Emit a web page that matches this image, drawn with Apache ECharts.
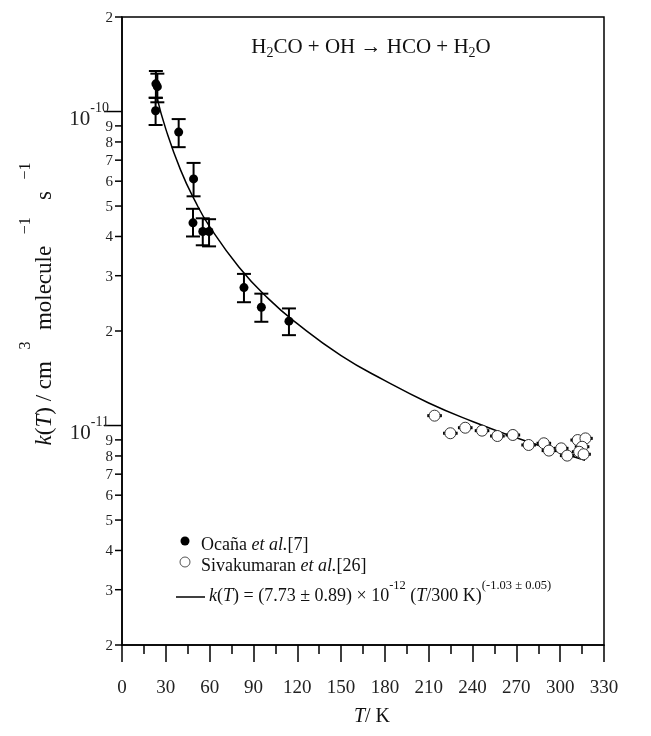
<!DOCTYPE html>
<html>
<head>
<meta charset="utf-8">
<script src="https://cdn.jsdelivr.net/npm/echarts@6/dist/echarts.min.js"></script>
<style>
html, body { margin: 0; padding: 0; background: #fff; }
#main { width: 651px; height: 736px; }
</style>
</head>
<body>
<div id="main"></div>
<script>
var FONT = '"Liberation Serif", "Times New Roman", serif';

// Ocaña et al. [7] : T / K, k, lower and upper end of the error bar
var ocanaT    = [23.2, 24.2, 23.0, 38.8, 49.0, 48.6, 55.3, 59.6, 83.5, 95.4, 114.3];
var ocanaK    = [1.225e-10, 1.20e-10, 1.006e-10, 8.6e-11, 6.1e-11, 4.42e-11, 4.15e-11, 4.15e-11, 2.75e-11, 2.38e-11, 2.15e-11];
var ocanaLow  = [1.105e-10, 1.07e-10, 9.06e-11, 7.7e-11, 5.37e-11, 4.0e-11, 3.75e-11, 3.72e-11, 2.47e-11, 2.14e-11, 1.94e-11];
var ocanaHigh = [1.346e-10, 1.32e-10, 1.107e-10, 9.46e-11, 6.86e-11, 4.9e-11, 4.57e-11, 4.54e-11, 3.04e-11, 2.63e-11, 2.36e-11];

// Sivakumaran et al. [26]
var sivaT = [214, 224.8, 235, 246.5, 257, 267.6, 278.4, 288.8, 292.3, 300.7, 304.8, 312, 317.3, 315, 313, 316];
var sivaK = [1.075e-11, 9.45e-12, 9.84e-12, 9.63e-12, 9.26e-12, 9.33e-12, 8.67e-12, 8.78e-12, 8.32e-12, 8.46e-12, 8.02e-12, 8.99e-12, 9.1e-12, 8.56e-12, 8.25e-12, 8.1e-12];
var sivaErrT = 5;

// fitted curve
var fitT = [24, 30, 40, 50, 60, 80, 100, 120, 150, 180, 210, 240, 270, 300, 317];
var fitK = [1.105e-10, 8.79e-11, 6.53e-11, 5.19e-11, 4.30e-11, 3.20e-11, 2.54e-11, 2.11e-11, 1.67e-11, 1.39e-11, 1.18e-11, 1.03e-11, 9.14e-12, 8.2e-12, 7.75e-12];

// y tick marks (log axis)
var yTickVals = [2e-12, 3e-12, 4e-12, 5e-12, 6e-12, 7e-12, 8e-12, 9e-12, 1e-11,
                 2e-11, 3e-11, 4e-11, 5e-11, 6e-11, 7e-11, 8e-11, 9e-11, 1e-10, 2e-10];
var yTickText = ['2', '3', '4', '5', '6', '7', '8', '9', '-11',
                 '2', '3', '4', '5', '6', '7', '8', '9', '-10', '2'];
var yTickMajor = [0, 0, 0, 0, 0, 0, 0, 0, 1, 0, 0, 0, 0, 0, 0, 0, 0, 1, 0];

var chart = echarts.init(document.getElementById('main'));

function pairs(a, b) {
    return a.map(function (v, i) { return [v, b[i]]; });
}

// vertical error bars with caps
function renderOcanaBar(params, api) {
    var t = api.value(0);
    var lo = api.coord([t, api.value(1)]);
    var hi = api.coord([t, api.value(2)]);
    var w = 7;
    var st = { stroke: '#000', lineWidth: 2 };
    return {
        type: 'group',
        children: [
            { type: 'line', shape: { x1: lo[0], y1: lo[1], x2: hi[0], y2: hi[1] }, style: st },
            { type: 'line', shape: { x1: lo[0] - w, y1: lo[1], x2: lo[0] + w, y2: lo[1] }, style: st },
            { type: 'line', shape: { x1: hi[0] - w, y1: hi[1], x2: hi[0] + w, y2: hi[1] }, style: st }
        ]
    };
}

// small horizontal error bars
function renderSivaBar(params, api) {
    var t = api.value(0), k = api.value(1);
    var a = api.coord([t - sivaErrT, k]);
    var b = api.coord([t + sivaErrT, k]);
    return {
        type: 'line',
        shape: { x1: a[0], y1: a[1], x2: b[0], y2: b[1] },
        style: { stroke: '#000', lineWidth: 3 }
    };
}

// log axis ticks 2..9 with labels
function renderYTick(params, api) {
    var i = params.dataIndex;
    var p = api.coord([0, yTickVals[i]]);
    var major = yTickMajor[i];
    var len = major ? 18 : 7;
    var children = [
        { type: 'line', shape: { x1: p[0] - len, y1: p[1], x2: p[0], y2: p[1] },
          style: { stroke: '#000', lineWidth: 1.5 } }
    ];
    if (major) {
        children.push({
            type: 'text', x: p[0] - 13, y: p[1] + 18,
            style: {
                text: '{b|10}{s|' + yTickText[i] + '}',
                align: 'right', verticalAlign: 'bottom',
                rich: {
                    b: { fontFamily: FONT, fontSize: 21, fill: '#222', verticalAlign: 'bottom', lineHeight: 28 },
                    s: { fontFamily: FONT, fontSize: 14, fill: '#222', verticalAlign: 'top', lineHeight: 28 }
                }
            }
        });
    } else {
        children.push({
            type: 'text', x: p[0] - 9, y: p[1] + 1,
            style: { text: yTickText[i], fontFamily: FONT, fontSize: 15, fill: '#222',
                     align: 'right', verticalAlign: 'middle' }
        });
    }
    return { type: 'group', children: children };
}

var nrm = { fontFamily: FONT, fontSize: 18, fill: '#111', verticalAlign: 'bottom', lineHeight: 26 };
var itl = { fontFamily: FONT, fontSize: 18, fill: '#111', fontStyle: 'italic', verticalAlign: 'bottom', lineHeight: 26 };
var sup = { fontFamily: FONT, fontSize: 12.5, fill: '#111', verticalAlign: 'top', lineHeight: 26 };

var option = {
    animation: false,
    backgroundColor: '#fff',
    grid: { left: 122, right: 47, top: 17, bottom: 91, show: true, borderColor: '#000', borderWidth: 1.5 },
    xAxis: {
        type: 'value', min: 0, max: 330, interval: 30,
        axisLine: { lineStyle: { color: '#000', width: 1.5 } },
        axisTick: { length: 17, lineStyle: { color: '#000', width: 1.5 } },
        minorTick: { show: true, splitNumber: 2, length: 9, lineStyle: { color: '#000', width: 1.5 } },
        splitLine: { show: false },
        axisLabel: { margin: 34, fontFamily: FONT, fontSize: 19, color: '#222' }
    },
    yAxis: {
        type: 'log', logBase: 10, min: 2e-12, max: 2e-10,
        axisLine: { show: true, lineStyle: { color: '#000', width: 1.5 } },
        axisTick: { show: false },
        axisLabel: { show: false },
        splitLine: { show: false }
    },
    graphic: [
        { type: 'text', x: 371, y: 47,
          style: { text: '{n|H}{s|2}{n|CO + OH \u2192 HCO + H}{s|2}{n|O}', align: 'center', verticalAlign: 'middle',
                   rich: {
                       n: { fontFamily: FONT, fontSize: 21, fill: '#111', verticalAlign: 'middle', lineHeight: 26 },
                       s: { fontFamily: FONT, fontSize: 14, fill: '#111', verticalAlign: 'bottom', lineHeight: 26 }
                   } } },
        { type: 'text', x: 37, y: 304, rotation: Math.PI / 2,
          style: { text: '{i|k}{n|(}{i|T}{n|) / cm  }{s|3}{n|  molecule  }{s|\u22121}{n|   s  }{s|\u22121}',
                   align: 'center', verticalAlign: 'middle',
                   rich: {
                       n: { fontFamily: FONT, fontSize: 23, fill: '#111', verticalAlign: 'bottom', lineHeight: 38 },
                       i: { fontFamily: FONT, fontSize: 23, fill: '#111', fontStyle: 'italic', verticalAlign: 'bottom', lineHeight: 38 },
                       s: { fontFamily: FONT, fontSize: 16, fill: '#111', verticalAlign: 'top', lineHeight: 38 }
                   } } },
        { type: 'text', x: 372, y: 717,
          style: { text: '{i|T}{n|/ K}', align: 'center', verticalAlign: 'middle',
                   rich: {
                       n: { fontFamily: FONT, fontSize: 20, fill: '#111' },
                       i: { fontFamily: FONT, fontSize: 20, fill: '#111', fontStyle: 'italic' }
                   } } },
        // legend
        { type: 'circle', shape: { cx: 185, cy: 541, r: 4.5 }, style: { fill: '#000' } },
        { type: 'text', x: 201, y: 541,
          style: { text: '{n|Oca\u00f1a }{i|et al.}{n|[7]}', verticalAlign: 'middle', rich: { n: nrm, i: itl } } },
        { type: 'circle', shape: { cx: 185, cy: 562, r: 5 }, style: { fill: '#fff', stroke: '#555', lineWidth: 1 } },
        { type: 'text', x: 201, y: 562,
          style: { text: '{n|Sivakumaran }{i|et al.}{n|[26]}', verticalAlign: 'middle', rich: { n: nrm, i: itl } } },
        { type: 'line', shape: { x1: 176, y1: 597, x2: 205, y2: 597 }, style: { stroke: '#000', lineWidth: 1.5 } },
        { type: 'text', x: 209, y: 592,
          style: { text: '{i|k}{n|(}{i|T}{n|) = (7.73 \u00b1 0.89) \u00d7 10}{s|-12}{n| (}{i|T}{n|/300 K)}{s|(-1.03 \u00b1 0.05)}',
                   verticalAlign: 'middle', rich: { n: nrm, i: itl, s: sup } } }
    ],
    series: [
        {
            type: 'custom', renderItem: renderYTick, clip: false, silent: true,
            data: yTickVals.map(function (v) { return [0, v]; }), z: 5
        },
        {
            type: 'line', data: pairs(fitT, fitK), smooth: true, showSymbol: false,
            lineStyle: { color: '#000', width: 1.5 }, z: 2
        },
        {
            type: 'custom', renderItem: renderOcanaBar,
            data: ocanaT.map(function (t, i) { return [t, ocanaLow[i], ocanaHigh[i]]; }), z: 3
        },
        {
            type: 'scatter', data: pairs(ocanaT, ocanaK), symbolSize: 9,
            itemStyle: { color: '#000', opacity: 1 }, z: 4
        },
        {
            type: 'custom', renderItem: renderSivaBar,
            data: pairs(sivaT, sivaK), z: 3
        },
        {
            type: 'scatter', data: pairs(sivaT, sivaK), symbolSize: 11,
            itemStyle: { color: '#fff', borderColor: '#333', borderWidth: 1, opacity: 1 }, z: 4
        }
    ]
};

chart.setOption(option);
</script>
</body>
</html>
